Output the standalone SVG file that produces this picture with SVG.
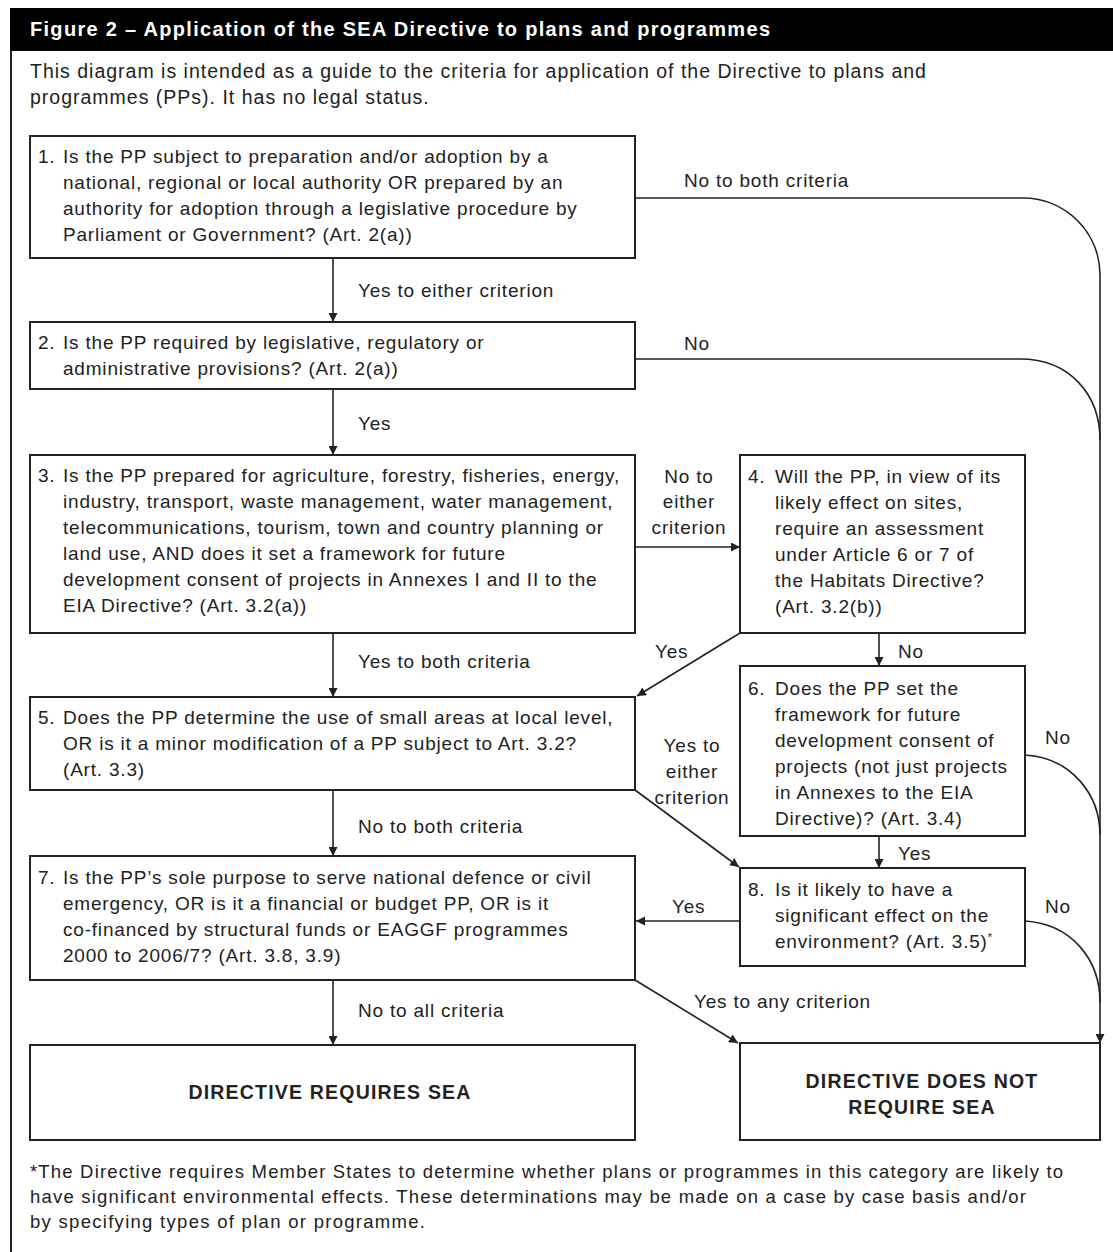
<svg xmlns="http://www.w3.org/2000/svg" width="1113" height="1252" viewBox="0 0 1113 1252">
<defs>
<style>
text{font-family:"Liberation Sans",Arial,sans-serif;font-size:19px;letter-spacing:0.8px;fill:#222}
.t{font-weight:bold;fill:#fff;font-size:20px;letter-spacing:1.3px}
.i{font-size:19.5px;letter-spacing:1px}
.b{font-weight:bold;font-size:19.5px;letter-spacing:1.2px}
.m{text-anchor:middle}
.box{fill:#fff;stroke:#222;stroke-width:2}
.c{fill:none;stroke:#222;stroke-width:1.6}
.fn{font-size:18.5px;letter-spacing:0}
</style>
<marker id="ah" viewBox="0 0 10 10" refX="10" refY="5" markerWidth="9" markerHeight="9" markerUnits="userSpaceOnUse" orient="auto">
<path d="M0 0 L10 5 L0 10 z" fill="#222"/>
</marker>
</defs>
<rect width="1113" height="1252" fill="#fff"/>
<g id="frame">
<rect x="10" y="8" width="1103" height="43" fill="#000"/>
<text class="t" x="30" y="36">Figure 2 – Application of the SEA Directive to plans and programmes</text>
<line x1="11" y1="51" x2="11" y2="1252" stroke="#222" stroke-width="2"/>
<text class="i" x="30" y="78">This diagram is intended as a guide to the criteria for application of the Directive to plans and</text>
<text class="i" x="30" y="104">programmes (PPs). It has no legal status.</text>
</g>
<g id="connectors">
<path class="c" d="M333 258 V322" marker-end="url(#ah)"/>
<path class="c" d="M333 389 V455" marker-end="url(#ah)"/>
<path class="c" d="M635 547 H740" marker-end="url(#ah)"/>
<path class="c" d="M333 633 V697" marker-end="url(#ah)"/>
<path class="c" d="M740 633 L637 696" marker-end="url(#ah)"/>
<path class="c" d="M879 633 V666" marker-end="url(#ah)"/>
<path class="c" d="M333 790 V856" marker-end="url(#ah)"/>
<path class="c" d="M635 790 L739 867" marker-end="url(#ah)"/>
<path class="c" d="M879 836 V868" marker-end="url(#ah)"/>
<path class="c" d="M740 921 H636" marker-end="url(#ah)"/>
<path class="c" d="M333 980 V1045" marker-end="url(#ah)"/>
<path class="c" d="M635 980 L738 1043" marker-end="url(#ah)"/>
<path class="c" d="M635 198 H1023 A77 77 0 0 1 1100 275 V1043" marker-end="url(#ah)"/>
<path class="c" d="M635 359 H1020 C1070 359 1100 395 1100 440"/>
<path class="c" d="M1025 755 C1072 758 1100 795 1100 835"/>
<path class="c" d="M1025 921 C1072 924 1100 960 1100 1002"/>
<text x="684" y="187">No to both criteria</text>
<text x="358" y="297">Yes to either criterion</text>
<text x="684" y="350">No</text>
<text x="358" y="430">Yes</text>
<text class="m" x="689" y="483">No to</text>
<text class="m" x="689" y="508">either</text>
<text class="m" x="689" y="534">criterion</text>
<text x="655" y="658">Yes</text>
<text x="898" y="658">No</text>
<text x="358" y="668">Yes to both criteria</text>
<text class="m" x="692" y="752">Yes to</text>
<text class="m" x="692" y="778">either</text>
<text class="m" x="692" y="804">criterion</text>
<text x="1045" y="744">No</text>
<text x="358" y="833">No to both criteria</text>
<text x="898" y="860">Yes</text>
<text x="672" y="913">Yes</text>
<text x="1045" y="913">No</text>
<text x="694" y="1008">Yes to any criterion</text>
<text x="358" y="1017">No to all criteria</text>
</g>
<g id="n1">
<rect class="box" x="30" y="136" width="605" height="122"/>
<text x="38" y="163">1.</text>
<text x="63" y="163">Is the PP subject to preparation and/or adoption by a</text>
<text x="63" y="189">national, regional or local authority OR prepared by an</text>
<text x="63" y="215">authority for adoption through a legislative procedure by</text>
<text x="63" y="241">Parliament or Government? (Art. 2(a))</text>
</g>
<g id="n2">
<rect class="box" x="30" y="322" width="605" height="67"/>
<text x="38" y="349">2.</text>
<text x="63" y="349">Is the PP required by legislative, regulatory or</text>
<text x="63" y="375">administrative provisions? (Art. 2(a))</text>
</g>
<g id="n3">
<rect class="box" x="30" y="455" width="605" height="178"/>
<text x="38" y="482">3.</text>
<text x="63" y="482">Is the PP prepared for agriculture, forestry, fisheries, energy,</text>
<text x="63" y="508">industry, transport, waste management, water management,</text>
<text x="63" y="534">telecommunications, tourism, town and country planning or</text>
<text x="63" y="560">land use, AND does it set a framework for future</text>
<text x="63" y="586">development consent of projects in Annexes I and II to the</text>
<text x="63" y="612">EIA Directive? (Art. 3.2(a))</text>
</g>
<g id="n4">
<rect class="box" x="740" y="455" width="285" height="178"/>
<text x="748" y="483">4.</text>
<text x="775" y="483">Will the PP, in view of its</text>
<text x="775" y="509">likely effect on sites,</text>
<text x="775" y="535">require an assessment</text>
<text x="775" y="561">under Article 6 or 7 of</text>
<text x="775" y="587">the Habitats Directive?</text>
<text x="775" y="613">(Art. 3.2(b))</text>
</g>
<g id="n5">
<rect class="box" x="30" y="697" width="605" height="93"/>
<text x="38" y="724">5.</text>
<text x="63" y="724">Does the PP determine the use of small areas at local level,</text>
<text x="63" y="750">OR is it a minor modification of a PP subject to Art. 3.2?</text>
<text x="63" y="776">(Art. 3.3)</text>
</g>
<g id="n6">
<rect class="box" x="740" y="666" width="285" height="170"/>
<text x="748" y="695">6.</text>
<text x="775" y="695">Does the PP set the</text>
<text x="775" y="721">framework for future</text>
<text x="775" y="747">development consent of</text>
<text x="775" y="773">projects (not just projects</text>
<text x="775" y="799">in Annexes to the EIA</text>
<text x="775" y="825">Directive)? (Art. 3.4)</text>
</g>
<g id="n7">
<rect class="box" x="30" y="856" width="605" height="124"/>
<text x="38" y="884">7.</text>
<text x="63" y="884">Is the PP’s sole purpose to serve national defence or civil</text>
<text x="63" y="910">emergency, OR is it a financial or budget PP, OR is it</text>
<text x="63" y="936">co-financed by structural funds or EAGGF programmes</text>
<text x="63" y="962">2000 to 2006/7? (Art. 3.8, 3.9)</text>
</g>
<g id="n8">
<rect class="box" x="740" y="868" width="285" height="98"/>
<text x="748" y="896">8.</text>
<text x="775" y="896">Is it likely to have a</text>
<text x="775" y="922">significant effect on the</text>
<text x="775" y="948">environment? (Art. 3.5)<tspan font-size="11" dy="-7">*</tspan></text>
</g>
<g id="requires">
<rect class="box" x="30" y="1045" width="605" height="95"/>
<text class="b m" x="330" y="1099">DIRECTIVE REQUIRES SEA</text>
</g>
<g id="notrequires">
<rect class="box" x="740" y="1043" width="360" height="97"/>
<text class="b m" x="922" y="1088">DIRECTIVE DOES NOT</text>
<text class="b m" x="922" y="1114">REQUIRE SEA</text>
</g>
<g id="footnote">
<text class="fn" x="30" y="1178" textLength="1033" lengthAdjust="spacing">*The Directive requires Member States to determine whether plans or programmes in this category are likely to</text>
<text class="fn" x="30" y="1203" textLength="996" lengthAdjust="spacing">have significant environmental effects. These determinations may be made on a case by case basis and/or</text>
<text class="fn" x="30" y="1228" textLength="395" lengthAdjust="spacing">by specifying types of plan or programme.</text>
</g>
</svg>
